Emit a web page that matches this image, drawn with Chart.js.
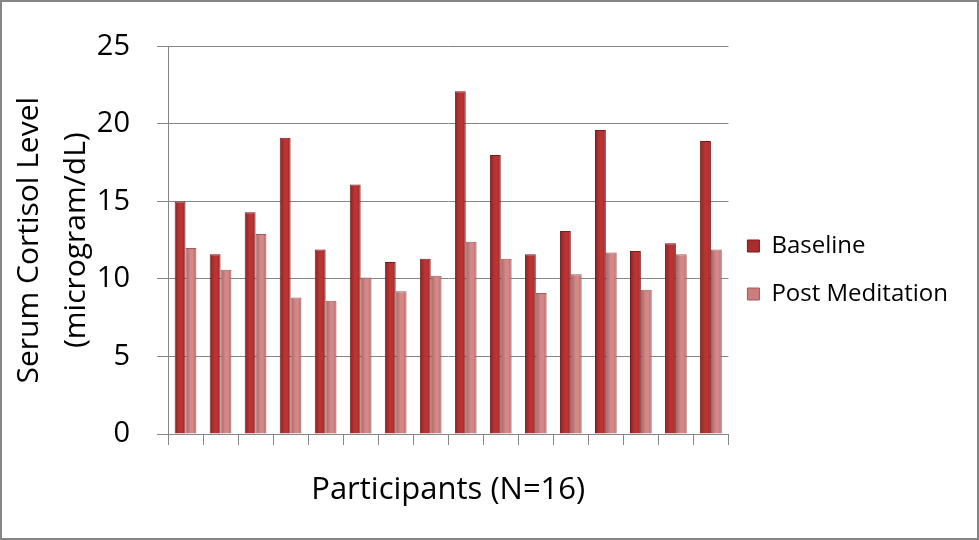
<!DOCTYPE html>
<html>
<head>
<meta charset="utf-8">
<script src="https://cdn.jsdelivr.net/npm/chart.js@4.4.1/dist/chart.umd.min.js"></script>
<style>
  html, body { margin: 0; padding: 0; background: #fff; }
  #wrap {
    width: 979px; height: 540px; box-sizing: border-box;
    border: 2px solid #858585; position: relative;
  }
  canvas { display: block; }
</style>
</head>
<body>
<div id="wrap"><canvas id="chart" width="975" height="536"></canvas></div>
<script>
// Participants 1..16 (labels are not shown on the axis)
const participants = ["1", "2", "3", "4", "5", "6", "7", "8",
  "9", "10", "11", "12", "13", "14", "15", "16"];

// Serum cortisol, microgram/dL
const baseline = [15.0, 11.6, 14.3, 19.1, 11.9, 16.1, 11.1, 11.3,
  22.1, 18.0, 11.6, 13.1, 19.6, 11.8, 12.3, 18.9];
const postMeditation = [12.0, 10.6, 12.9, 8.8, 8.6, 10.1, 9.2, 10.2,
  12.4, 11.3, 9.1, 10.3, 11.7, 9.3, 11.6, 11.9];

const yTicks = [0, 5, 10, 15, 20, 25];

const FONT = "'Open Sans', sans-serif";
const GRID = "#868686";

/**
 * Horizontal shading across a bar (dark edges, light middle) for the
 * bevelled look. Needs the bar's x/width, so the first pass falls back
 * to a flat colour and the chart is updated once more after creation.
 */
function barShade(edge, mid, flat) {
  return (c) => {
    const el = c.element;
    if (!el || el.width == null || isNaN(el.x)) return flat;
    const x0 = el.x - el.width / 2;
    const g = c.chart.ctx.createLinearGradient(x0, 0, x0 + el.width, 0);
    g.addColorStop(0, edge);
    g.addColorStop(0.45, mid);
    g.addColorStop(0.7, mid);
    g.addColorStop(1, edge);
    return g;
  };
}

// Pull the legend a little closer to the plot (Chart.js ties this gap to item padding)
const legendNudge = {
  id: "legendNudge",
  afterLayout(chart) {
    if (chart.legend) {
      chart.legend.left -= 5;
      chart.legend.right -= 5;
    }
  },
};

const ctx = document.getElementById("chart").getContext("2d");

const chart = new Chart(ctx, {
  type: "bar",
  data: {
    labels: participants,
    datasets: [
      {
        label: "Baseline",
        data: baseline,
        backgroundColor: barShade("#8C2222", "#BA3434", "#AB2C2C"),
        borderColor: "#7A1B1B",
        borderWidth: 1,
      },
      {
        label: "Post Meditation",
        data: postMeditation,
        backgroundColor: barShade("#A86363", "#D48888", "#CC7D7D"),
        borderColor: "#9A5C5C",
        borderWidth: 1,
      },
    ],
  },
  plugins: [legendNudge],
  options: {
    responsive: false,
    animation: false,
    layout: {
      padding: { left: 4, right: 14, top: 29, bottom: 29 },
    },
    datasets: {
      bar: {
        categoryPercentage: 0.62,
        barPercentage: 1.0,
      },
    },
    plugins: {
      tooltip: { enabled: false },
      legend: {
        position: "right",
        align: "center",
        labels: {
          color: "#000",
          font: { family: FONT, size: 24 },
          boxWidth: 12,
          boxHeight: 12,
          padding: 24,
          generateLabels: (ch) =>
            Chart.defaults.plugins.legend.labels.generateLabels(ch).map((item, i) => ({
              ...item,
              fillStyle: i === 0 ? "#AB2C2C" : "#CC7D7D",
            })),
        },
      },
    },
    scales: {
      x: {
        afterFit: (axis) => {
          axis.height = 75;
        },
        grid: {
          offset: true,
          drawOnChartArea: false,
          color: GRID,
          tickLength: 11,
        },
        border: { color: GRID },
        ticks: { display: false },
        title: {
          display: true,
          text: "Participants (N=16)",
          color: "#000",
          font: { family: FONT, size: 31 },
          padding: { top: 28, bottom: 0 },
        },
      },
      y: {
        min: 0,
        max: 25,
        afterBuildTicks: (axis) => {
          axis.ticks = yTicks.map((v) => ({ value: v }));
        },
        afterFit: (axis) => {
          axis.width = 162;
        },
        grid: {
          color: GRID,
          tickLength: 11,
        },
        border: { color: GRID },
        ticks: {
          color: "#000",
          padding: 27,
          font: { family: FONT, size: 29 },
        },
        title: {
          display: true,
          text: ["Serum Cortisol Level", "(microgram/dL)"],
          color: "#000",
          font: { family: FONT, size: 30, lineHeight: 1.57 },
          padding: { top: 0, bottom: 0 },
        },
      },
    },
  },
});

// second pass so the bar gradients can see the bar positions
chart.update();
</script>
</body>
</html>
